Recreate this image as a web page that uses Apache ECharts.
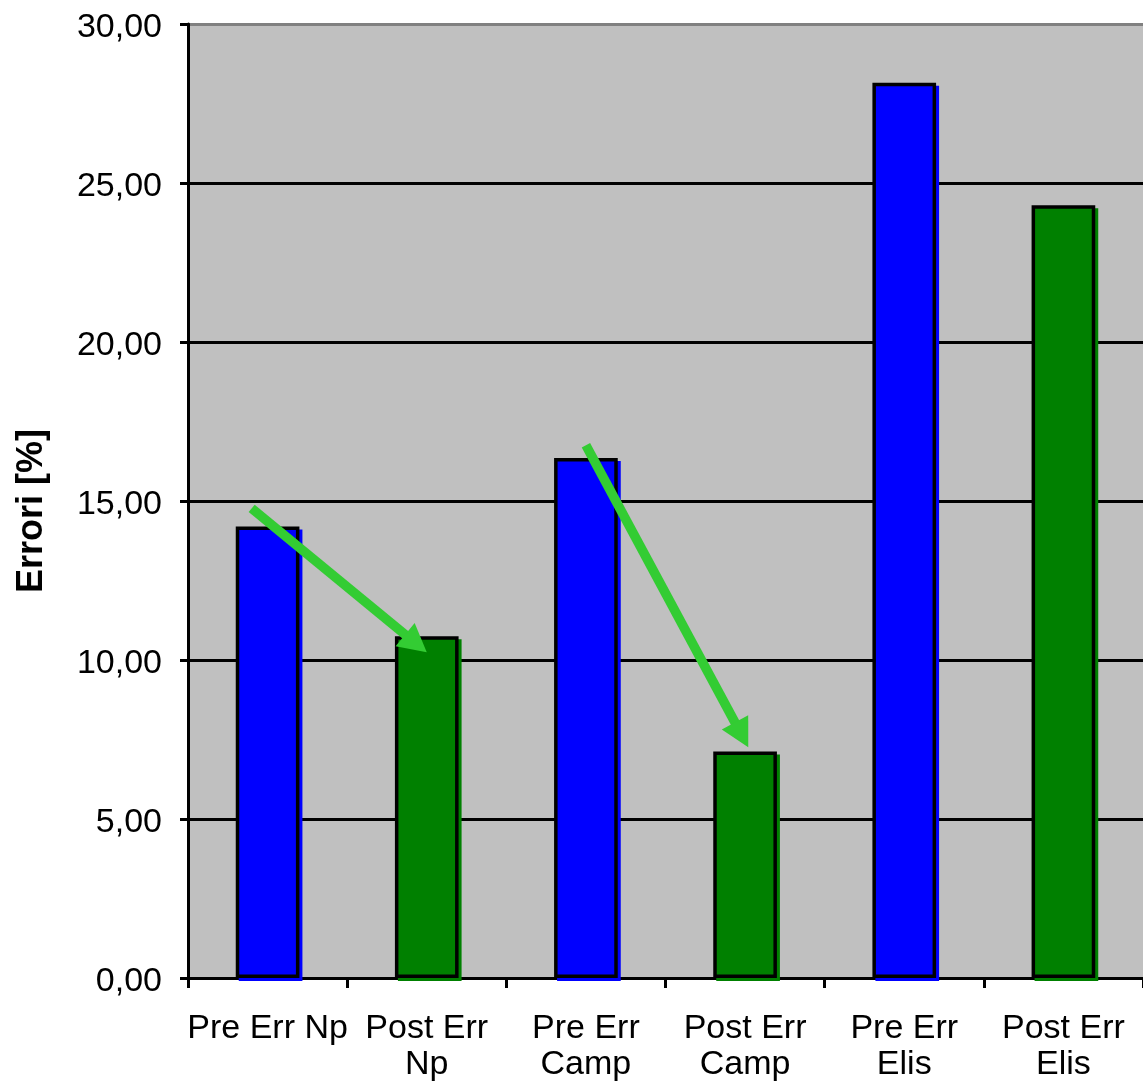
<!DOCTYPE html>
<html>
<head>
<meta charset="utf-8">
<style>
  html, body { margin: 0; padding: 0; background: #ffffff; }
  #chart { width: 1143px; height: 1090px; }
</style>
<script src="https://cdn.jsdelivr.net/npm/echarts@6/dist/echarts.min.js"></script>
</head>
<body>
<div id="chart"></div>
<script>
// Error percentages before and after correction, per data set
const categories = ['Pre Err Np', 'Post Err\nNp', 'Pre Err\nCamp', 'Post Err\nCamp', 'Pre Err\nElis', 'Post Err\nElis'];
const errorValues = [14.2, 10.75, 16.35, 7.12, 28.15, 24.3];
const barColors = ['#0000ff', '#008000', '#0000ff', '#008000', '#0000ff', '#008000'];
const yTicks = [0, 5, 10, 15, 20, 25, 30];

// Arrows from a "pre" bar to its "post" bar: [category position, value] pairs
const arrowFrom = [[-0.1, 14.77], [0.0, 16.75]];
const arrowTo = [[1.0, 10.24], [3.02, 7.26]];
const arrowFromCat = [0, 2];

const FONT = '"Liberation Sans", Arial, sans-serif';

const chart = echarts.init(document.getElementById('chart'), null, { renderer: 'canvas' });

chart.setOption({
  animation: false,
  backgroundColor: '#ffffff',
  grid: {
    left: 188, right: 0, top: 24, bottom: 112,
    show: true, backgroundColor: '#c0c0c0', borderWidth: 0,
    containLabel: false
  },
  xAxis: {
    type: 'category',
    data: categories,
    axisLine: { show: true, lineStyle: { color: '#000', width: 3 } },
    axisTick: { show: true, inside: false, length: 10, alignWithLabel: false, lineStyle: { color: '#000', width: 3 } },
    axisLabel: {
      interval: 0, margin: 33, color: '#000',
      fontFamily: FONT, fontSize: 34, lineHeight: 36
    },
    splitLine: { show: false }
  },
  yAxis: {
    type: 'value',
    min: yTicks[0], max: yTicks[yTicks.length - 1], interval: yTicks[1] - yTicks[0],
    name: 'Errori [%]',
    nameLocation: 'middle',
    nameGap: 138,
    nameRotate: 90,
    nameTextStyle: { fontFamily: FONT, fontSize: 36, fontWeight: 'bold', color: '#000', padding: [0, 20, 0, 0] },
    axisLine: { show: true, lineStyle: { color: '#000', width: 3 } },
    axisTick: { show: true, inside: false, length: 8, lineStyle: { color: '#000', width: 3 } },
    axisLabel: {
      margin: 26, color: '#000', fontFamily: FONT, fontSize: 34,
      formatter: v => '{t|' + v.toFixed(2).replace('.', ',') + '}',
      rich: { t: { fontFamily: FONT, fontSize: 34, color: '#000', padding: [8, 0, 0, 0] } }
    },
    splitLine: {
      show: true,
      lineStyle: { color: ['#000', '#000', '#000', '#000', '#000', '#000', '#808080'], width: 3 }
    }
  },
  series: [{
    type: 'bar',
    barWidth: '40%',
    data: errorValues.map((v, i) => ({
      value: v,
      itemStyle: {
        color: barColors[i],
        borderColor: '#000',
        borderWidth: 3.5,
        shadowColor: barColors[i],
        shadowBlur: 0,
        shadowOffsetX: 3,
        shadowOffsetY: 3
      }
    })),
    z: 2
  }]
});

// Pixel position of a fractional category position and a value
function toPixel(pos, value) {
  const i0 = Math.floor(pos);
  const frac = pos - i0;
  const a = chart.convertToPixel({ gridIndex: 0 }, [i0, value]);
  const b = chart.convertToPixel({ gridIndex: 0 }, [i0 + 1, value]);
  return [a[0] + (b[0] - a[0]) * frac, a[1]];
}

function arrowGraphic(p0, p1) {
  const dx = p1[0] - p0[0], dy = p1[1] - p0[1];
  const len = Math.sqrt(dx * dx + dy * dy);
  const ux = dx / len, uy = dy / len;
  const headLen = 28, headHalf = 15;
  const base = [p1[0] - ux * headLen, p1[1] - uy * headLen];
  const nx = -uy, ny = ux;
  return [
    {
      type: 'line', z: 10,
      shape: { x1: p0[0], y1: p0[1], x2: base[0] + ux * 2, y2: base[1] + uy * 2 },
      style: { stroke: '#33cc33', lineWidth: 9.5, lineCap: 'butt' }
    },
    {
      type: 'polygon', z: 10,
      shape: { points: [p1, [base[0] + nx * headHalf, base[1] + ny * headHalf], [base[0] - nx * headHalf, base[1] - ny * headHalf]] },
      style: { fill: '#33cc33' }
    }
  ];
}

const elements = [];
for (let k = 0; k < arrowFrom.length; k++) {
  const p0 = toPixel(arrowFromCat[k] + arrowFrom[k][0], arrowFrom[k][1]);
  const p1 = toPixel(arrowTo[k][0], arrowTo[k][1]);
  elements.push(...arrowGraphic(p0, p1));
}
chart.setOption({ graphic: { elements } });
</script>
</body>
</html>
